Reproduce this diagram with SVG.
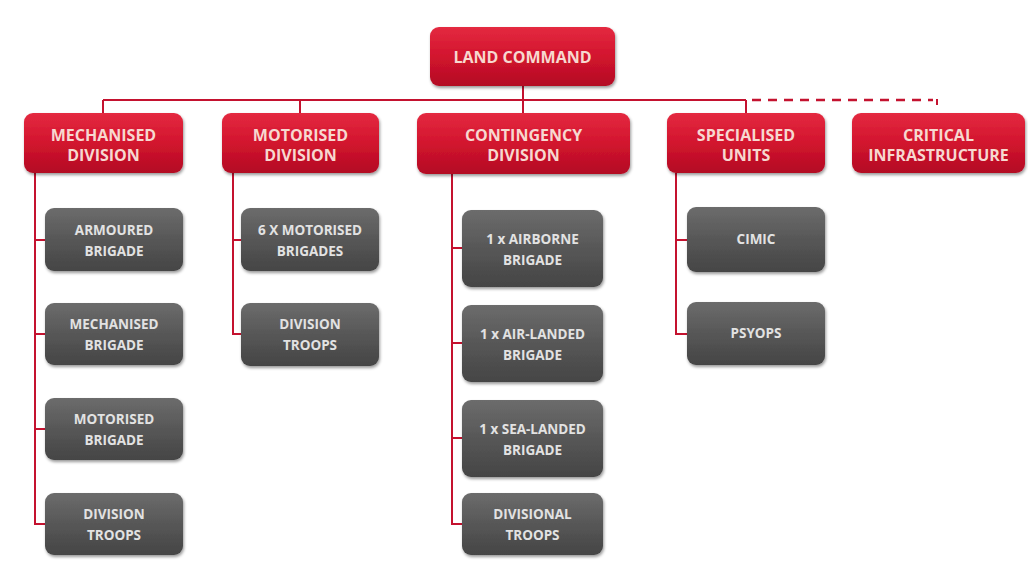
<svg xmlns="http://www.w3.org/2000/svg" width="1028" height="562" viewBox="0 0 1028 562">
<defs>
<linearGradient id="gRed" x1="0" y1="0" x2="0" y2="1">
<stop offset="0" stop-color="#e42a40"/>
<stop offset="0.5" stop-color="#d2142e"/>
<stop offset="1" stop-color="#b30c24"/>
</linearGradient>
<linearGradient id="gGray" x1="0" y1="0" x2="0" y2="1">
<stop offset="0" stop-color="#6c6c6c"/>
<stop offset="0.5" stop-color="#575757"/>
<stop offset="1" stop-color="#454545"/>
</linearGradient>
<filter id="sh" x="-10%" y="-10%" width="125%" height="135%">
<feDropShadow dx="1" dy="2" stdDeviation="1.8" flood-color="#000" flood-opacity="0.4"/>
</filter>
<style>
.red{fill:url(#gRed);filter:url(#sh);}
.gray{fill:url(#gGray);filter:url(#sh);}
.tr{font-family:"Open Sans","Liberation Sans",sans-serif;font-weight:700;font-size:16px;fill:#f7d8d0;text-anchor:middle;}
.tg{font-family:"Open Sans","Liberation Sans",sans-serif;font-weight:700;font-size:13.5px;fill:#e2e2e2;text-anchor:middle;}
.ln{fill:none;stroke:#c4122f;stroke-width:2;}
.dash{fill:none;stroke:#c4122f;stroke-width:2.5;stroke-dasharray:9,7;}
</style>
</defs>
<rect width="1028" height="562" fill="#ffffff"/>
<g id="connectors">
<path class="ln" d="M523,86V100M103,100H746M103,100V113M300,100V113M523,100V113M746,100V113"/>
<path class="dash" d="M752,100H933"/>
<path class="ln" d="M937,99V105" stroke-width="2.5"/>
<path class="ln" d="M35,173V524H45M35,240H45M35,334H45M35,429H45"/>
<path class="ln" d="M233,173V334H241M233,240H241"/>
<path class="ln" d="M452,174V524H462M452,248H462M452,343H462M452,438H462"/>
<path class="ln" d="M676,173V334H687M676,240H687"/>
</g>
<g id="land-command"><rect class="red" x="430" y="27" width="185" height="59" rx="9"/><text class="tr" x="522.5" y="63" font-size="16.5">LAND COMMAND</text></g>
<g id="mechanised-division"><rect class="red" x="24" y="113" width="159" height="60" rx="9"/><text class="tr" x="103.5" y="141">MECHANISED</text><text class="tr" x="103.5" y="161">DIVISION</text></g>
<g id="motorised-division"><rect class="red" x="222" y="113" width="157" height="60" rx="9"/><text class="tr" x="300.5" y="141">MOTORISED</text><text class="tr" x="300.5" y="161">DIVISION</text></g>
<g id="contingency-division"><rect class="red" x="417" y="113" width="213" height="61" rx="9"/><text class="tr" x="523.5" y="141">CONTINGENCY</text><text class="tr" x="523.5" y="161">DIVISION</text></g>
<g id="specialised-units"><rect class="red" x="667" y="113" width="158" height="60" rx="9"/><text class="tr" x="746" y="141">SPECIALISED</text><text class="tr" x="746" y="161">UNITS</text></g>
<g id="critical-infrastructure"><rect class="red" x="852" y="113" width="173" height="60" rx="9"/><text class="tr" x="938.5" y="141">CRITICAL</text><text class="tr" x="938.5" y="161">INFRASTRUCTURE</text></g>

<g id="armoured-brigade"><rect class="gray" x="45" y="208" width="138" height="63" rx="9"/><text class="tg" x="114" y="235">ARMOURED</text><text class="tg" x="114" y="256">BRIGADE</text></g>
<g id="mechanised-brigade"><rect class="gray" x="45" y="303" width="138" height="62" rx="9"/><text class="tg" x="114" y="329">MECHANISED</text><text class="tg" x="114" y="350">BRIGADE</text></g>
<g id="motorised-brigade"><rect class="gray" x="45" y="398" width="138" height="62" rx="9"/><text class="tg" x="114" y="424">MOTORISED</text><text class="tg" x="114" y="445">BRIGADE</text></g>
<g id="mech-division-troops"><rect class="gray" x="45" y="493" width="138" height="62" rx="9"/><text class="tg" x="114" y="519">DIVISION</text><text class="tg" x="114" y="540">TROOPS</text></g>

<g id="motorised-brigades"><rect class="gray" x="241" y="208" width="138" height="63" rx="9"/><text class="tg" x="310" y="235">6 X MOTORISED</text><text class="tg" x="310" y="256">BRIGADES</text></g>
<g id="motor-division-troops"><rect class="gray" x="241" y="303" width="138" height="63" rx="9"/><text class="tg" x="310" y="329">DIVISION</text><text class="tg" x="310" y="350">TROOPS</text></g>

<g id="airborne-brigade"><rect class="gray" x="462" y="210" width="141" height="77" rx="9"/><text class="tg" x="532.5" y="244">1 x AIRBORNE</text><text class="tg" x="532.5" y="265">BRIGADE</text></g>
<g id="air-landed-brigade"><rect class="gray" x="462" y="305" width="141" height="77" rx="9"/><text class="tg" x="532.5" y="339">1 x AIR-LANDED</text><text class="tg" x="532.5" y="360">BRIGADE</text></g>
<g id="sea-landed-brigade"><rect class="gray" x="462" y="400" width="141" height="77" rx="9"/><text class="tg" x="532.5" y="434">1 x SEA-LANDED</text><text class="tg" x="532.5" y="455">BRIGADE</text></g>
<g id="divisional-troops"><rect class="gray" x="462" y="493" width="141" height="62" rx="9"/><text class="tg" x="532.5" y="519">DIVISIONAL</text><text class="tg" x="532.5" y="540">TROOPS</text></g>

<g id="cimic"><rect class="gray" x="687" y="207" width="138" height="65" rx="9"/><text class="tg" x="756" y="244">CIMIC</text></g>
<g id="psyops"><rect class="gray" x="687" y="302" width="138" height="63" rx="9"/><text class="tg" x="756" y="338">PSYOPS</text></g>
</svg>
